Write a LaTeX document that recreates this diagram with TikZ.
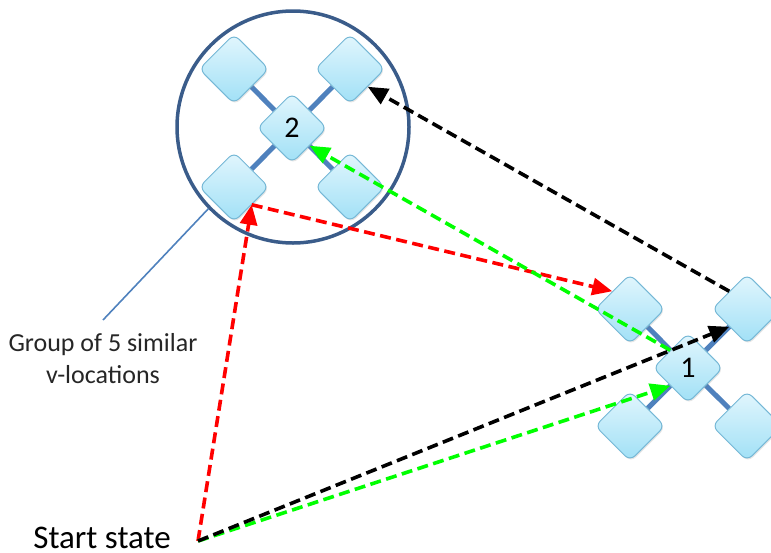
\documentclass[tikz,border=0pt]{standalone}
\usepackage{fontspec}
\setmainfont{Carlito}
\usetikzlibrary{shapes.geometric, arrows.meta, shadows, backgrounds}
\usepackage{xcolor}
\definecolor{vloctop}{RGB}{226,246,253}
\definecolor{vlocbot}{RGB}{160,224,246}
\definecolor{vlocline}{RGB}{118,184,214}
\definecolor{barblue}{RGB}{79,129,189}
\definecolor{ringblue}{RGB}{58,92,138}

\begin{document}
\begin{tikzpicture}[x = 1pt, y = -1pt,
	vloc/.style = {shape = diamond, aspect = 1, minimum width = 70pt, minimum height = 70pt, inner sep = 0pt,
		rounded corners = 7pt, draw = vlocline, line width = 1pt, top color = vloctop, bottom color = vlocbot,
		drop shadow = {opacity = 0.2, shadow xshift = 1pt, shadow yshift = -1.5pt},
		font = \fontsize{30}{34}\selectfont},
	bar/.style = {draw = barblue, line width = 5pt},
	flow/.style = {dash pattern = on 11pt off 5.5pt, line width = 3.6pt, -{Triangle[length = 20pt, width = 17pt]}}]
	\useasboundingbox (0, 0) rectangle (771, 552);
	% group 2 with its ring
	\node[circle, draw = ringblue, line width = 3.5pt, minimum size = 232pt] (grp) at (293, 127) {};
	\node[vloc] (g2c)  at (292, 128) {2};
	\node[vloc] (g2tl) at (234,  69) {};
	\node[vloc] (g2tr) at (350,  69) {};
	\node[vloc] (g2bl) at (234, 187) {};
	\node[vloc] (g2br) at (350, 187) {};
	% group 1
	\node[vloc] (g1c)  at (688, 368) {1};
	\node[vloc] (g1tl) at (630, 309) {};
	\node[vloc] (g1tr) at (747, 309) {};
	\node[vloc] (g1bl) at (630, 426) {};
	\node[vloc] (g1br) at (747, 426) {};
	\begin{scope}[on background layer]
		\draw[bar] (g2c) -- (g2tl);
		\draw[bar] (g2c) -- (g2tr);
		\draw[bar] (g2c) -- (g2bl);
		\draw[bar] (g2c) -- (g2br);
		\draw[bar] (g1c) -- (g1tl);
		\draw[bar] (g1c) -- (g1tr);
		\draw[bar] (g1c) -- (g1bl);
		\draw[bar] (g1c) -- (g1br);
	\end{scope}
	% labels
	\node[anchor = north, align = center, inner xsep = 0pt, inner ysep = 13pt,
		font = \fontsize{26}{32}\selectfont, text = black!85] (grplbl) at (103, 320) {Group of 5 similar\\v-locations};
	\draw[barblue, line width = 1.6pt] (grp.224) -- (grplbl.north);
	\coordinate (start) at (198, 541);
	\node[anchor = east, inner sep = 0pt, font = \fontsize{33}{38}\selectfont] (startlbl) at (171, 537.5) {Start state};
	% moves
	\draw[flow, red] (start) -- (g2bl.south east);
	\draw[flow, red] (g2bl.south east) -- (g1tl.north west);
	\draw[flow, green] (start) -- (g1c.south west);
	\draw[flow, green] (g1c.north west) -- (g2c.south east);
	\draw[flow, black] (start) -- (g1tr.south west);
	\draw[flow, black] (g1tr.north west) -- (g2tr.south east);
\end{tikzpicture}
\end{document}
